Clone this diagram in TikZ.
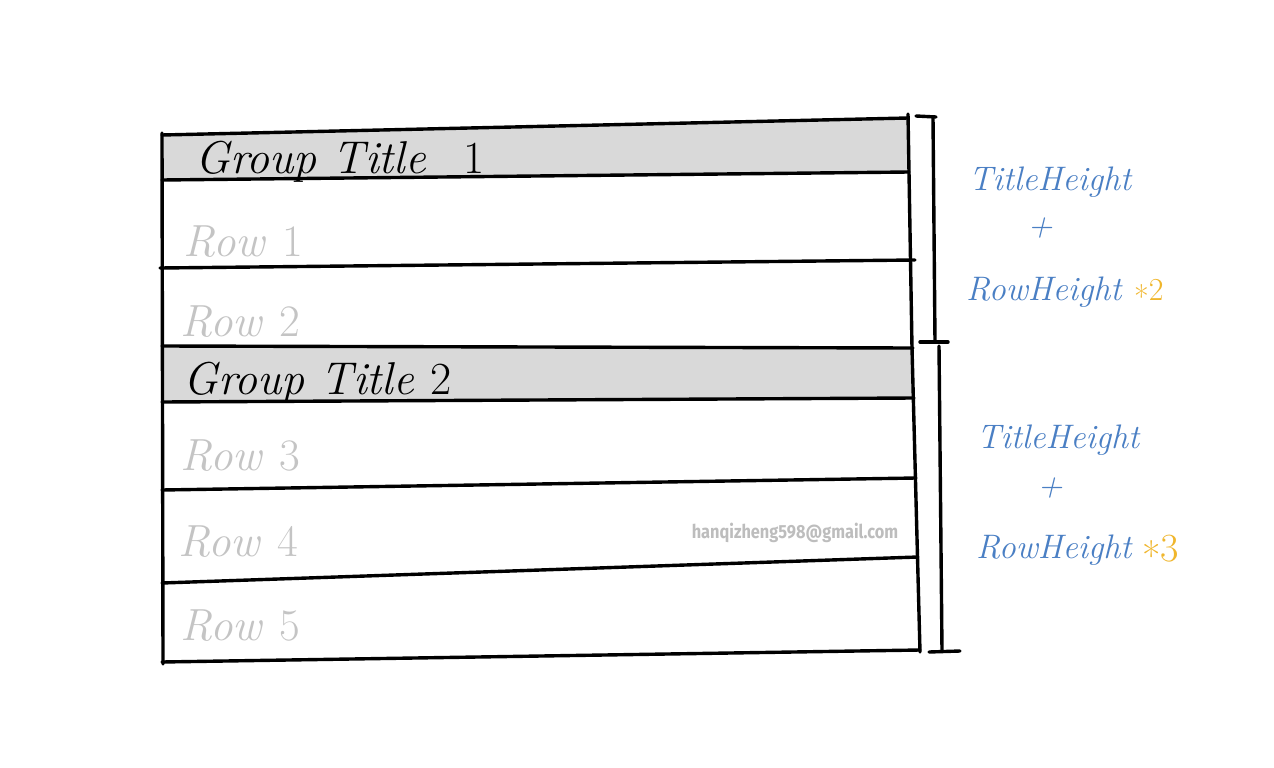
\documentclass[tikz,border=0pt]{standalone}
\usepackage{fontspec}
\newfontfamily\wmfont{Fira Sans}
\usetikzlibrary{calc}
\definecolor{titlegray}{HTML}{D9D9D9}
\definecolor{rowgray}{HTML}{C4C4C4}
\definecolor{noteblue}{HTML}{4A7FC4}
\definecolor{noteyellow}{HTML}{F0B62C}
\definecolor{wmgray}{HTML}{BDBDBD}
\newcommand{\dg}[1]{\textup{#1}}
\newcommand{\lowstar}{\raisebox{-0.55ex}{*}}
\begin{document}
\begin{tikzpicture}[x=1pt,y=-1pt,
  ink/.style={draw=black,line width=3.4pt,line cap=round,line join=round},
  titletext/.style={anchor=base west,font=\fontsize{46}{50}\selectfont\itshape,text=black,inner sep=0pt},
  rowtext/.style={anchor=base west,font=\fontsize{45}{48}\selectfont\itshape,text=rowgray,inner sep=0pt},
  notetext/.style={font=\fontsize{34}{38}\selectfont\itshape,text=noteblue,inner sep=0pt},
  multtext/.style={font=\fontsize{32}{36}\selectfont,text=noteyellow,inner sep=0pt}]
\useasboundingbox (0,0) rectangle (1274,768);
\fill[white] (0,0) rectangle (1274,768);
% row line coordinates (left, right)
\coordinate (L0) at (162,135); \coordinate (R0) at (908,118);
\coordinate (L1) at (162,180); \coordinate (R1) at (909,172);
\coordinate (L2) at (160,268); \coordinate (R2) at (915,260);
\coordinate (L3) at (162,346); \coordinate (R3) at (913,348);
\coordinate (L4) at (162,402); \coordinate (R4) at (914,398);
\coordinate (L5) at (162,490); \coordinate (R5) at (916,478);
\coordinate (L6) at (162,583); \coordinate (R6) at (918,557);
\coordinate (L7) at (162,662); \coordinate (R7) at (920,650);
% title fills
\fill[titlegray] (L0) -- (R0) -- (R1) -- (L1) -- cycle;
\fill[titlegray] (L3) -- (R3) -- (R4) -- (L4) -- cycle;
% horizontal lines
\foreach \i in {0,...,7} \draw[ink] (L\i) -- (R\i);
% verticals
\draw[ink] (162,133) -- (163,664);
\draw[ink] (908,114) -- (912,348) -- (920,652);
% brackets
\coordinate (b1t) at (933,118); \coordinate (b1b) at (935,342);
\coordinate (b2t) at (939,346); \coordinate (b2b) at (942,651);
\draw[ink] (916,116) -- (936,117);
\draw[ink] (b1t) -- (b1b);
\draw[ink] (920,342) -- (948,342);
\draw[ink] (b2t) -- (b2b);
\draw[ink] (929,652) -- (960,651);
% texts
\node[titletext] (g1) at (195,173) {Group Title\hspace{0.8em}\dg{1}};
\node[rowtext] (r1) at (183,256) {Row \dg{1}};
\node[rowtext] (r2) at (180,336) {Row \dg{2}};
\node[titletext] (g2) at (183,394) {Group Title \dg{2}};
\node[rowtext] (r3) at (180,470) {Row \dg{3}};
\node[rowtext] (r4) at (178,556) {Row \dg{4}};
\node[rowtext] (r5) at (180,640) {Row \dg{5}};
\node[font=\wmfont\bfseries\fontsize{19}{22}\selectfont,text=wmgray,inner sep=0pt] (wm) at (795,533) {\scalebox{0.86}[1]{hanqizheng598@gmail.com}};
% annotations
\node[notetext] (n1a) at (1050,182) {TitleHeight};
\node[notetext] (n1b) at (1040,228) {+};
\node[notetext,anchor=west] (n1c) at (966,292) {RowHeight};
\node[multtext,anchor=west] (n1d) at (1134,294) {\lowstar2};
\node[notetext] (n2a) at (1058,440) {TitleHeight};
\node[notetext] (n2b) at (1050,488) {+};
\node[notetext,anchor=west] (n2c) at (976,550) {RowHeight};
\node[multtext,anchor=west,font=\fontsize{40}{44}\selectfont] (n2d) at (1142,553) {\lowstar3};
\end{tikzpicture}
\end{document}
